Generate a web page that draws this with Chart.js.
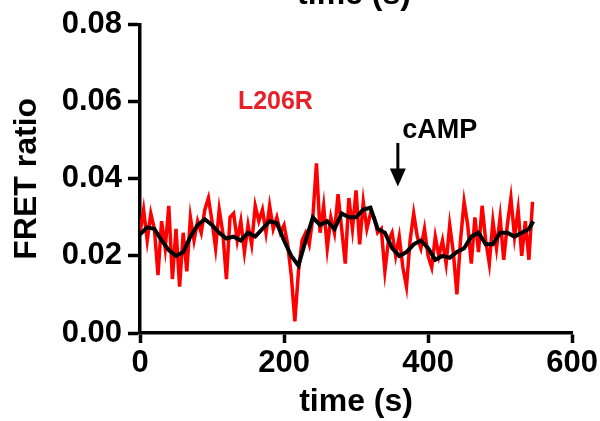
<!DOCTYPE html>
<html>
<head>
<meta charset="utf-8">
<script src="https://cdn.jsdelivr.net/npm/chart.js@4"></script>
<style>
  html, body { margin: 0; padding: 0; background: #fff; }
  #wrap { width: 600px; height: 421px; }
</style>
</head>
<body>
<div id="wrap"><canvas id="chart" width="600" height="421"></canvas></div>
<script>
// raw FRET ratio trace (red), sampled every 5 s
const rawTimes = [
  0, 5, 10, 15, 20, 25, 30, 35, 40, 45, 50, 55, 60, 65, 70, 75, 80, 85, 90, 95,
  100, 105, 110, 115, 120, 125, 130, 135, 140, 145, 150, 155, 160, 165, 170, 175, 180, 185, 190, 195,
  200, 205, 210, 215, 220, 225, 230, 235, 240, 245, 250, 255, 260, 265, 270, 275, 280, 285, 290, 295,
  300, 305, 310, 315, 320, 325, 330, 335, 340, 345, 350, 355, 360, 365, 370, 375, 380, 385, 390, 395,
  400, 405, 410, 415, 420, 425, 430, 435, 440, 445, 450, 455, 460, 465, 470, 475, 480, 485, 490, 495,
  500, 505, 510, 515, 520, 525, 530, 535, 540, 545
];
const rawRatio = [
  0.026, 0.032, 0.024, 0.031, 0.027, 0.015, 0.029, 0.022, 0.033, 0.014, 0.027, 0.012, 0.026, 0.016, 0.030, 0.024, 0.029, 0.026, 0.032, 0.035,
  0.029, 0.022, 0.032, 0.026, 0.014, 0.030, 0.031, 0.024, 0.029, 0.021, 0.028, 0.023, 0.033, 0.029, 0.032, 0.026, 0.033, 0.027, 0.030, 0.026,
  0.028, 0.023, 0.015, 0.003, 0.016, 0.024, 0.026, 0.023, 0.030, 0.044, 0.026, 0.033, 0.022, 0.030, 0.026, 0.036, 0.027, 0.018, 0.035, 0.027,
  0.037, 0.023, 0.034, 0.027, 0.031, 0.030, 0.026, 0.027, 0.016, 0.024, 0.026, 0.020, 0.025, 0.017, 0.012, 0.024, 0.031, 0.025, 0.022, 0.027,
  0.020, 0.017, 0.025, 0.020, 0.024, 0.018, 0.028, 0.021, 0.010, 0.024, 0.034, 0.028, 0.018, 0.030, 0.021, 0.033, 0.024, 0.018, 0.029, 0.022,
  0.030, 0.019, 0.028, 0.035, 0.025, 0.032, 0.020, 0.029, 0.019, 0.034
];

// smoothed trace (black)
const smoothTimes = [
  0, 10, 20, 30, 40, 50, 60, 70, 80, 90, 100, 110, 120, 130, 140, 150, 160, 170, 180, 190,
  200, 210, 220, 230, 240, 250, 260, 270, 280, 290, 300, 310, 320, 330, 340, 350, 360, 370, 380, 390,
  400, 410, 420, 430, 440, 450, 460, 470, 480, 490, 500, 510, 520, 530, 540, 546
];
const smoothRatio = [
  0.0256, 0.0274, 0.027, 0.024, 0.0215, 0.020, 0.021, 0.025, 0.028, 0.0295, 0.028, 0.026, 0.0245, 0.025, 0.024, 0.026, 0.025, 0.027, 0.029, 0.0285,
  0.024, 0.020, 0.0175, 0.024, 0.030, 0.028, 0.029, 0.027, 0.031, 0.030, 0.030, 0.032, 0.0325, 0.027, 0.026, 0.022, 0.020, 0.021, 0.023, 0.024,
  0.022, 0.019, 0.020, 0.0195, 0.021, 0.022, 0.025, 0.026, 0.023, 0.023, 0.026, 0.026, 0.025, 0.026, 0.027, 0.029
];

const xTicks = [0, 200, 400, 600];
const yTicks = [0, 0.02, 0.04, 0.06, 0.08];

const FONT = "'Liberation Sans', Arial, sans-serif";

const toPoints = (xs, ys) => xs.map((x, i) => ({ x, y: ys[i] }));

// labels, arrow and the clipped title from the panel above
const annotations = {
  id: 'annotations',
  afterDatasetsDraw(chart) {
    const { ctx, scales: { x, y } } = chart;
    ctx.save();
    ctx.textBaseline = 'middle';

    ctx.font = `bold 25px ${FONT}`;
    ctx.fillStyle = 'rgb(232, 32, 40)';
    ctx.textAlign = 'center';
    ctx.fillText('L206R', x.getPixelForValue(188), y.getPixelForValue(0.0598));

    ctx.font = `bold 27px ${FONT}`;
    ctx.fillStyle = '#000';
    ctx.textAlign = 'left';
    ctx.fillText('cAMP', x.getPixelForValue(364), y.getPixelForValue(0.0526));

    // arrow
    const ax = x.getPixelForValue(358);
    const yTop = y.getPixelForValue(0.0493);
    const yTip = y.getPixelForValue(0.0380);
    ctx.strokeStyle = '#000';
    ctx.lineWidth = 3;
    ctx.beginPath();
    ctx.moveTo(ax, yTop);
    ctx.lineTo(ax, yTip - 10);
    ctx.stroke();
    ctx.beginPath();
    ctx.moveTo(ax - 8, yTip - 18);
    ctx.lineTo(ax + 8, yTip - 18);
    ctx.lineTo(ax, yTip);
    ctx.closePath();
    ctx.fill();

    ctx.font = `bold 32px ${FONT}`;
    ctx.textAlign = 'center';
    ctx.textBaseline = 'alphabetic';
    ctx.fillText('time (s)', 354, 4);
    ctx.restore();
  }
};

new Chart(document.getElementById('chart'), {
  type: 'line',
  data: {
    datasets: [
      {
        label: 'smoothed',
        data: toPoints(smoothTimes, smoothRatio),
        borderColor: '#000',
        borderWidth: 4,
        pointRadius: 0,
        tension: 0,
        order: 0
      },
      {
        label: 'L206R',
        data: toPoints(rawTimes, rawRatio),
        borderColor: '#ff0000',
        borderWidth: 3.5,
        pointRadius: 0,
        tension: 0,
        order: 1
      }
    ]
  },
  options: {
    responsive: false,
    animation: false,
    layout: { padding: { top: 20, right: 24, left: 0, bottom: 0 } },
    plugins: {
      legend: { display: false },
      tooltip: { enabled: false }
    },
    scales: {
      x: {
        type: 'linear',
        min: 0,
        max: 600,
        afterBuildTicks: (scale) => { scale.ticks = xTicks.map(v => ({ value: v })); },
        afterFit: (scale) => { scale.height = 88; },
        border: { display: true, color: '#000', width: 3.5 },
        grid: { drawOnChartArea: false, color: '#000', tickLength: 10, tickWidth: 3.5 },
        ticks: { color: '#000', padding: 2, font: { family: FONT, size: 31, weight: 'bold' } },
        title: {
          display: true,
          text: 'time (s)',
          color: '#000',
          padding: { top: 0, bottom: 0 },
          font: { family: FONT, size: 32, weight: 'bold' }
        }
      },
      y: {
        min: 0,
        max: 0.08,
        afterBuildTicks: (scale) => { scale.ticks = yTicks.map(v => ({ value: v })); },
        afterFit: (scale) => { scale.width = 140; },
        border: { display: true, color: '#000', width: 3.5 },
        grid: { drawOnChartArea: false, color: '#000', tickLength: 12, tickWidth: 3.5 },
        ticks: {
          color: '#000',
          padding: 6,
          font: { family: FONT, size: 31, weight: 'bold' },
          callback: (v) => Number(v).toFixed(2)
        },
        title: {
          display: true,
          text: 'FRET ratio',
          color: '#000',
          padding: { top: 8, bottom: 0 },
          font: { family: FONT, size: 32, weight: 'bold' }
        }
      }
    }
  },
  plugins: [annotations]
});
</script>
</body>
</html>
